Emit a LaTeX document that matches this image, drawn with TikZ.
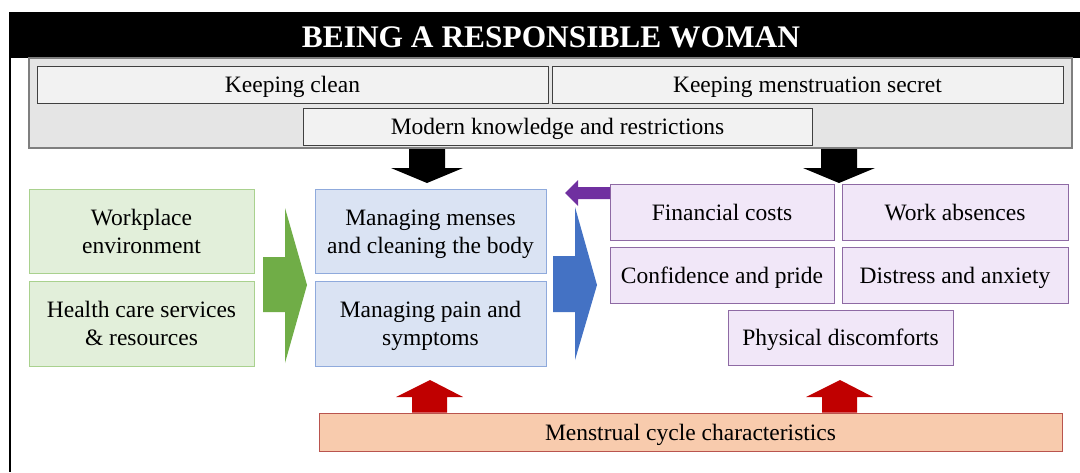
\documentclass[tikz,border=0pt]{standalone}
\usepackage{fontspec}
\setmainfont{LiberationSerif}[Extension=.ttf, UprightFont=*-Regular, BoldFont=*-Bold, ItalicFont=*-Italic, BoldItalicFont=*-BoldItalic]
\definecolor{bandgray}{HTML}{E5E5E5}
\definecolor{bandedge}{HTML}{7F7F7F}
\definecolor{boxgray}{HTML}{F2F2F2}
\definecolor{boxedge}{HTML}{404040}
\definecolor{grfill}{HTML}{E2EFDA}
\definecolor{gredge}{HTML}{A9D18E}
\definecolor{blfill}{HTML}{DAE3F3}
\definecolor{bledge}{HTML}{8FAADC}
\definecolor{pufill}{HTML}{F1E7F8}
\definecolor{puedge}{HTML}{8E6AA4}
\definecolor{orfill}{HTML}{F8CBAD}
\definecolor{oredge}{HTML}{B9544E}
\definecolor{garrow}{HTML}{70AD47}
\definecolor{barrow}{HTML}{4472C4}
\definecolor{parrow}{HTML}{7030A0}
\definecolor{rarrow}{HTML}{C00000}
\tikzset{
  lbl/.style={font=\fontsize{23.5}{28}\selectfont, align=center, inner sep=0pt, outer sep=0pt,
              text height=16pt, text depth=0pt},
  twoline/.style={text height=44pt, text depth=0pt},
  graybox/.style={lbl, draw=boxedge, fill=boxgray, line width=1pt, minimum height=37pt},
  greenbox/.style={lbl, twoline, draw=gredge, fill=grfill, line width=1pt, minimum width=225pt, minimum height=84pt},
  bluebox/.style={lbl, twoline, draw=bledge, fill=blfill, line width=1pt, minimum width=231pt, minimum height=84pt},
  purplebox/.style={lbl, draw=puedge, fill=pufill, line width=1pt, minimum height=56pt},
  orangebox/.style={lbl, draw=oredge, fill=orfill, line width=1pt, minimum width=743pt, minimum height=38pt},
}
\begin{document}
\begin{tikzpicture}[x=1pt,y=-1pt]
\useasboundingbox (0,0) rectangle (1080,472);
\fill[white] (0,0) rectangle (1080,472);
% header
\fill[black] (9,12) rectangle (1080,58);
\node[lbl, text=white, font=\fontsize{31.4}{34}\selectfont\bfseries, text height=21pt, text depth=0pt] (title) at (551,37) {BEING A RESPONSIBLE WOMAN};
\draw[black, line width=2pt] (10,57) -- (10,472);
% gray band
\node[draw=bandedge, fill=bandgray, line width=1.2pt, minimum width=1043pt, minimum height=90pt, inner sep=0pt] (band) at (550.5,103) {};
\node[graybox, minimum width=511pt] (clean) at (292.5,84.5) {Keeping clean};
\node[graybox, minimum width=511pt] (secret) at (807.5,84.5) {Keeping menstruation secret};
\node[graybox, minimum width=509pt] (modern) at (557.5,126.5) {Modern knowledge and restrictions};
% left green
\node[greenbox] (work) at (141.5,231) {Workplace\\environment};
\node[greenbox, minimum height=85pt] (health) at (141.5,323.5) {Health care services\\\& resources};
% blue
\node[bluebox] (menses) at (430.5,231) {Managing menses\\and cleaning the body};
\node[bluebox, minimum height=85pt] (pain) at (430.5,323.5) {Managing pain and\\symptoms};
% purple
\node[purplebox, minimum width=224pt] (fin) at (722,212.5) {Financial costs};
\node[purplebox, minimum width=226pt] (absence) at (955,212.5) {Work absences};
\node[purplebox, minimum width=224pt] (conf) at (722,275.5) {Confidence and pride};
\node[purplebox, minimum width=226pt] (distress) at (955,275.5) {Distress and anxiety};
\node[purplebox, minimum width=225pt, minimum height=55pt] (phys) at (840.5,337.5) {Physical discomforts};
% bottom bar
\node[orangebox] (cycle) at (690.5,432) {Menstrual cycle characteristics};
% block arrows
\fill[garrow] (263,257) -- (285,257) -- (285,208) -- (307,285) -- (285,363) -- (285,312) -- (263,312) -- cycle;
\fill[barrow] (553,256) -- (575,256) -- (575,207) -- (597,285) -- (575,360) -- (575,312) -- (553,312) -- cycle;
\fill[parrow] (fin.west |- 0,187) -- (578,187) -- (578,180) -- (565,193) -- (578,206) -- (578,199) -- (fin.west |- 0,199) -- cycle;
\fill[black] (409,149) -- (445,149) -- (445,168) -- (463,168) -- (427,183) -- (391,168) -- (409,168) -- cycle;
\fill[black] (821,149) -- (857,149) -- (857,168) -- (875,168) -- (839,183) -- (803,168) -- (821,168) -- cycle;
\fill[rarrow] (412,412.5) -- (447,412.5) -- (447,397) -- (463,397) -- (430,380) -- (396,397) -- (412,397) -- cycle;
\fill[rarrow] (822,412.5) -- (857,412.5) -- (857,397) -- (873,397) -- (840,380) -- (806,397) -- (822,397) -- cycle;
\end{tikzpicture}
\end{document}
